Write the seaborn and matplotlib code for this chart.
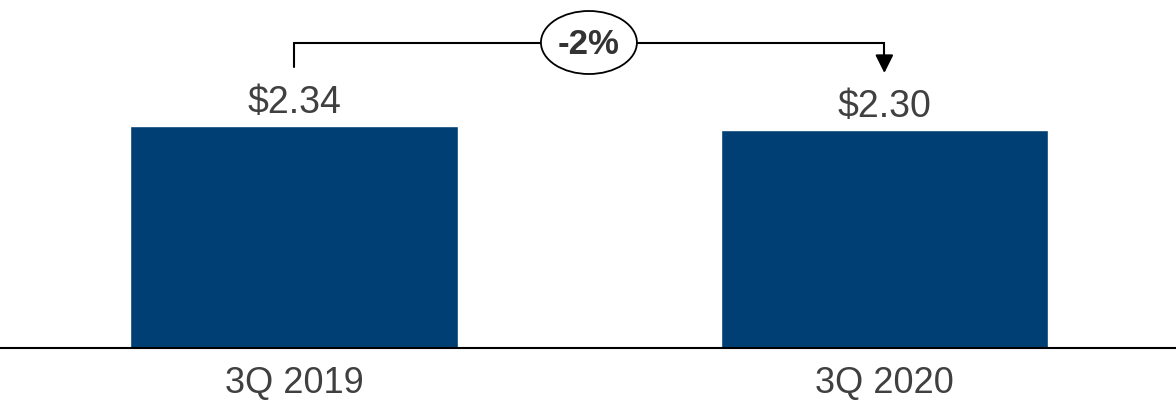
import matplotlib
matplotlib.use("Agg")
import matplotlib.pyplot as plt
from matplotlib.patches import Ellipse
import seaborn as sns
import pandas as pd

categories = ["3Q 2019", "3Q 2020"]
values = [2.34, 2.30]
value_labels = ["$2.34", "$2.30"]
change_label = "-2%"

sns.set_style("white")
plt.rcParams["font.family"] = ["Liberation Sans", "DejaVu Sans"]

df = pd.DataFrame({"period": categories, "eps": values})

fig = plt.figure(figsize=(11.76, 4.01), dpi=100)
ax = fig.add_axes([0, 53 / 401, 1, 348 / 401])

sns.barplot(data=df, x="period", y="eps", color="#003f74", width=0.555,
            saturation=1, ax=ax)

ymax = 2.34 * 348 / 222
ax.set_ylim(0, ymax)
ax.set_xlim(-0.498, 1.494)

for i, (v, lab) in enumerate(zip(values, value_labels)):
    ax.annotate(lab, xy=(i, v), xytext=(0, 9.5), textcoords="offset points",
                ha="center", va="baseline", fontsize=27, color="#404040")

# bracket
def py(p):
    return (348 - p) / 348 * ymax

y_line = py(43)
ax.plot([0, 0, 1, 1], [py(67), y_line, y_line, py(60)], color="black", lw=1.5,
        solid_joinstyle="miter")
ax.annotate("", xy=(1, py(73)), xytext=(1, py(55)),
            arrowprops=dict(arrowstyle="-|>,head_length=1.1,head_width=0.55",
                            color="black", lw=1.5, shrinkA=0, shrinkB=0))
ex = (589 - 294) / 590.5
ell = Ellipse((ex, py(42.5)), width=96 / 590.5, height=63 / 348 * ymax,
              facecolor="white", edgecolor="black", lw=1.3, zorder=5)
ax.add_patch(ell)
ax.text(ex, py(44), change_label, ha="center", va="center", fontsize=25,
        fontweight="bold", color="#333333", zorder=6)

ax.set_xlabel("")
ax.set_ylabel("")
ax.set_yticks([])
for s in ["top", "left", "right"]:
    ax.spines[s].set_visible(False)
ax.spines["bottom"].set_color("black")
ax.spines["bottom"].set_linewidth(1.5)
ax.tick_params(axis="x", length=0, pad=13, labelsize=26, labelcolor="#404040")

fig.savefig("out.png", dpi=100)
